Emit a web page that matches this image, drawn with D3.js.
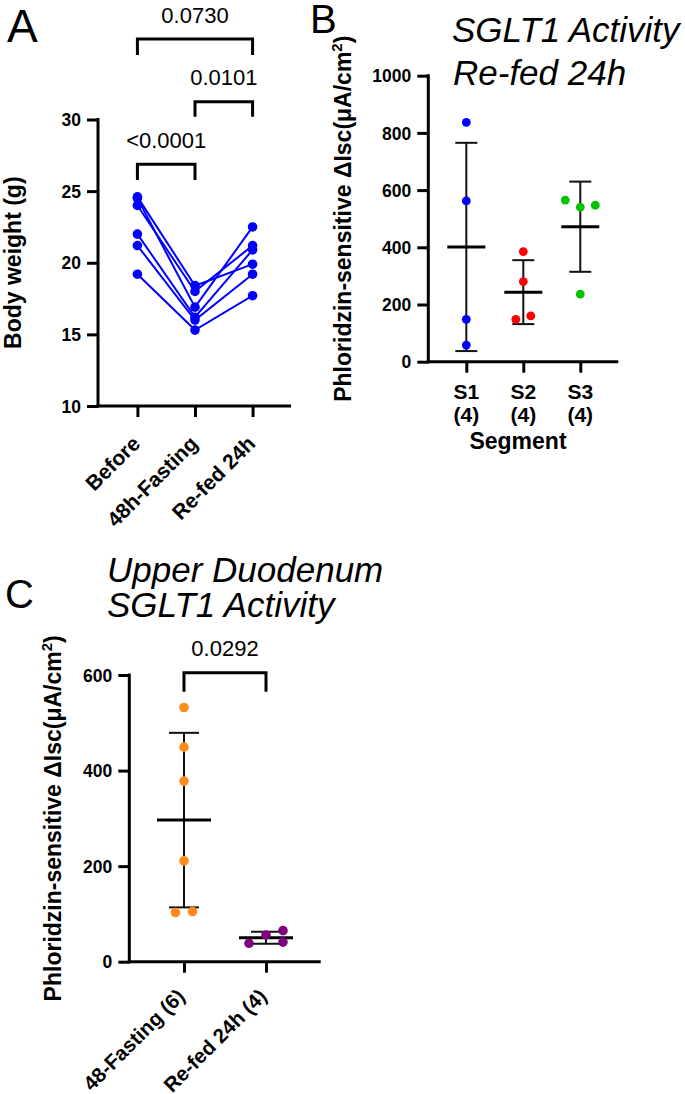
<!DOCTYPE html>
<html><head><meta charset="utf-8">
<script src="https://cdn.jsdelivr.net/npm/d3@7"></script>
<style>html,body{margin:0;padding:0;background:#fff;} svg{display:block;font-family:"Liberation Sans",Arial,Helvetica,sans-serif;}</style>
</head><body><svg id="chart" width="685" height="1094"></svg>
<script>
// ---------------- data ----------------
const groupsA = ["Before", "48h-Fasting", "Re-fed 24h"];
const weightBefore  = [24.6, 24.5, 24.0, 22.0, 21.2, 19.2];
const weightFasting = [18.4, 16.9, 18.0, 16.2, 16.0, 15.3];
const weightRefed   = [19.9, 22.5, 21.2, 20.9, 19.2, 17.7];
const ticksA = [10, 15, 20, 25, 30];
const pLabelsA = ["<0.0001", "0.0101", "0.0730"];

const segments = ["S1", "S2", "S3"];
const segmentN = ["(4)", "(4)", "(4)"];
const activityS1 = [837, 562, 148, 58];
const activityS2 = [385, 280, 148, 160];
const activityS3 = [540, 547, 565, 236];
const ticksB = [0, 200, 400, 600, 800, 1000];

const groupsC = ["48-Fasting (6)", "Re-fed 24h (4)"];
const activityFasting = [532, 449, 378, 211, 103, 105];
const activityRefed   = [56, 65, 41, 38.5];
const ticksC = [0, 200, 400, 600];
const pLabelC = "0.0292";

// ---------------- helpers ----------------
const svg = d3.select("#chart");
svg.append("rect").attr("width", 685).attr("height", 1094).attr("fill", "#fff");
const BLUE = "#0000ff", RED = "#ff0000", GREEN = "#00c400", ORANGE = "#ff8c1a", PURPLE = "#800080";

function yAxis(g, scale, ticks) {
  g.call(d3.axisLeft(scale).tickValues(ticks).tickFormat(d3.format("d")).tickSize(11).tickSizeOuter(0).tickPadding(6));
  g.select(".domain").remove();
  g.selectAll(".tick line").attr("stroke", "#000").attr("stroke-width", 3);
  g.selectAll(".tick text").attr("font-weight", "bold").attr("font-size", 17.5).attr("fill", "#000")
    .attr("font-family", "Liberation Sans, Arial, sans-serif").attr("dy", "0.35em");
  const r = scale.range();
  g.append("line").attr("x1", 0).attr("x2", 0).attr("y1", r[0] + 1.5).attr("y2", r[1] - 1.5)
    .attr("stroke", "#000").attr("stroke-width", 3);
}
function xAxis(g, scale, x0) {
  g.call(d3.axisBottom(scale).tickSize(11).tickSizeOuter(0).tickFormat(""));
  g.select(".domain").remove();
  g.selectAll(".tick line").attr("stroke", "#000").attr("stroke-width", 3);
  g.append("line").attr("x1", x0 - 1.5).attr("x2", scale.range()[1]).attr("y1", 0).attr("y2", 0)
    .attr("stroke", "#000").attr("stroke-width", 3);
}
function bracket(x1, x2, yTop, legLen, label) {
  svg.append("path").attr("d", `M${x1},${yTop + legLen}V${yTop}H${x2}V${yTop + legLen}`)
    .attr("fill", "none").attr("stroke", "#000").attr("stroke-width", 3);
  svg.append("text").attr("x", (x1 + x2) / 2).attr("y", yTop - 16.5).attr("text-anchor", "middle")
    .attr("font-size", 22).attr("fill", "#000").text(label);
}
function swarm(values, yScale, s, D) {
  const placed = [];
  values.forEach(v => {
    const y = yScale(v);
    const cands = [0];
    for (let k = 1; k <= 6; k++) cands.push(k * s, -k * s);
    for (const c of cands) {
      if (!placed.some(p => p.off === c && Math.abs(p.y - y) < D)) { placed.push({ v, y, off: c }); break; }
    }
  });
  const sorted = placed.slice().sort((a, b) => a.y - b.y);
  let cl = [sorted[0]]; const clusters = [cl];
  for (let i = 1; i < sorted.length; i++) {
    if (sorted[i].y - sorted[i - 1].y < D) cl.push(sorted[i]); else { cl = [sorted[i]]; clusters.push(cl); }
  }
  clusters.forEach(c => { const sh = (d3.min(c, p => p.off) + d3.max(c, p => p.off)) / 2; c.forEach(p => p.off -= sh); });
  return placed;
}
function errorGroup(cx, vals, yScale, color, capHalf, meanHalf, s, r) {
  const m = d3.mean(vals), sd = d3.deviation(vals);
  const g = svg.append("g");
  g.append("line").attr("x1", cx).attr("x2", cx).attr("y1", yScale(m + sd)).attr("y2", yScale(m - sd))
    .attr("stroke", "#111").attr("stroke-width", 2);
  [m + sd, m - sd].forEach(v => g.append("line").attr("x1", cx - capHalf).attr("x2", cx + capHalf)
    .attr("y1", yScale(v)).attr("y2", yScale(v)).attr("stroke", "#111").attr("stroke-width", 2));
  g.append("line").attr("x1", cx - meanHalf).attr("x2", cx + meanHalf).attr("y1", yScale(m)).attr("y2", yScale(m))
    .attr("stroke", "#000").attr("stroke-width", 3);
  g.selectAll("circle").data(swarm(vals, yScale, s, 10)).join("circle")
    .attr("cx", d => cx + d.off).attr("cy", d => d.y).attr("r", r).attr("fill", color);
}
function yTitle(x, yc, main) {
  const t = svg.append("text").attr("transform", `translate(${x},${yc}) rotate(-90)`).attr("text-anchor", "middle")
    .attr("font-weight", "bold").attr("font-size", 23).attr("fill", "#000");
  if (main) { t.text(main); return; }
  t.append("tspan").text("Phloridzin-sensitive \u0394Isc(\u03bcA/cm");
  t.append("tspan").attr("dy", -9).attr("font-size", 15).text("2");
  t.append("tspan").attr("dy", 9).text(")");
}

// ---------------- Panel A ----------------
const yA = d3.scaleLinear().domain([10, 30]).range([406, 119.5]);
const xA = d3.scalePoint().domain(groupsA).range([99, 291]).padding(0.667);
svg.append("g").attr("transform", "translate(98,0)").call(g => yAxis(g, yA, ticksA));
svg.append("g").attr("transform", "translate(0,406)").call(g => xAxis(g, xA, 98));
groupsA.forEach(gn => {
  svg.append("text").attr("transform", `translate(${xA(gn) + 4},${406 + 39}) rotate(-45)`)
    .attr("text-anchor", "end").attr("font-weight", "bold").attr("font-size", 21).attr("fill", "#000").text(gn);
});
yTitle(21, 262.7, "Body weight (g)");
const mice = weightBefore.map((b, i) => [b, weightFasting[i], weightRefed[i]]);
const lineA = d3.line().x((d, i) => xA(groupsA[i])).y(d => yA(d));
svg.append("g").selectAll("path").data(mice).join("path").attr("d", lineA)
  .attr("fill", "none").attr("stroke", BLUE).attr("stroke-width", 2);
svg.append("g").selectAll("circle").data(mice.flatMap(m => m.map((v, i) => ({ v, i })))).join("circle")
  .attr("cx", d => xA(groupsA[d.i])).attr("cy", d => yA(d.v)).attr("r", 4.8).attr("fill", BLUE);
bracket(xA(groupsA[0]), xA(groupsA[1]), 164.3, 15.7, pLabelsA[0]);
bracket(xA(groupsA[1]), xA(groupsA[2]), 101.7, 15, pLabelsA[1]);
bracket(xA(groupsA[0]), xA(groupsA[2]), 39, 16, pLabelsA[2]);
svg.append("text").attr("x", 7).attr("y", 41.5).attr("font-size", 46).attr("fill", "#000").text("A");

// ---------------- Panel B ----------------
const yB = d3.scaleLinear().domain([0, 1000]).range([361.7, 75.7]);
const xB = d3.scalePoint().domain(segments).range([428.3, 618.3]).padding(0.667);
svg.append("g").attr("transform", "translate(428.3,0)").call(g => yAxis(g, yB, ticksB));
svg.append("g").attr("transform", "translate(0,361.7)").call(g => xAxis(g, xB, 428.3));
segments.forEach((s, i) => {
  svg.append("text").attr("x", xB(s)).attr("y", 398.5).attr("text-anchor", "middle")
    .attr("font-weight", "bold").attr("font-size", 21).attr("fill", "#000").text(s);
  svg.append("text").attr("x", xB(s)).attr("y", 421.7).attr("text-anchor", "middle")
    .attr("font-weight", "bold").attr("font-size", 21).attr("fill", "#000").text(segmentN[i]);
});
svg.append("text").attr("x", 518).attr("y", 448.5).attr("text-anchor", "middle")
  .attr("font-weight", "bold").attr("font-size", 23).attr("fill", "#000").text("Segment");
yTitle(351, 218.7);
errorGroup(xB("S1"), activityS1, yB, BLUE, 11, 19, 15, 4.4);
errorGroup(xB("S2"), activityS2, yB, RED, 11, 19, 15, 4.4);
errorGroup(xB("S3"), activityS3, yB, GREEN, 11, 19, 15, 4.4);
svg.append("text").attr("x", 310).attr("y", 33).attr("font-size", 40).attr("fill", "#000").text("B");
svg.append("text").attr("x", 452).attr("y", 42).attr("font-size", 35).attr("font-style", "italic").attr("fill", "#000").text("SGLT1 Activity");
svg.append("text").attr("x", 453).attr("y", 85).attr("font-size", 35).attr("font-style", "italic").attr("fill", "#000").text("Re-fed 24h");

// ---------------- Panel C ----------------
const yC = d3.scaleLinear().domain([0, 600]).range([961.7, 675]);
const xC = d3.scalePoint().domain(groupsC).range([129.3, 320.7]).padding(0.667);
svg.append("g").attr("transform", "translate(129.3,0)").call(g => yAxis(g, yC, ticksC));
svg.append("g").attr("transform", "translate(0,961.7)").call(g => xAxis(g, xC, 129.3));
groupsC.forEach(gn => {
  svg.append("text").attr("transform", `translate(${xC(gn) + 2},${961.7 + 36}) rotate(-45)`)
    .attr("text-anchor", "end").attr("font-weight", "bold").attr("font-size", 20.5).attr("fill", "#000").text(gn);
});
yTitle(61, 818.3);
errorGroup(xC(groupsC[0]), activityFasting, yC, ORANGE, 15, 27, 17, 4.8);
errorGroup(xC(groupsC[1]), activityRefed, yC, PURPLE, 15, 27, 17, 4.8);
bracket(xC(groupsC[0]), xC(groupsC[1]), 672.7, 19, pLabelC);
svg.append("text").attr("x", 5).attr("y", 608).attr("font-size", 40).attr("fill", "#000").text("C");
svg.append("text").attr("x", 107).attr("y", 582).attr("font-size", 35).attr("font-style", "italic").attr("fill", "#000").text("Upper Duodenum");
svg.append("text").attr("x", 107).attr("y", 617).attr("font-size", 35).attr("font-style", "italic").attr("fill", "#000").text("SGLT1 Activity");
</script></body></html>
